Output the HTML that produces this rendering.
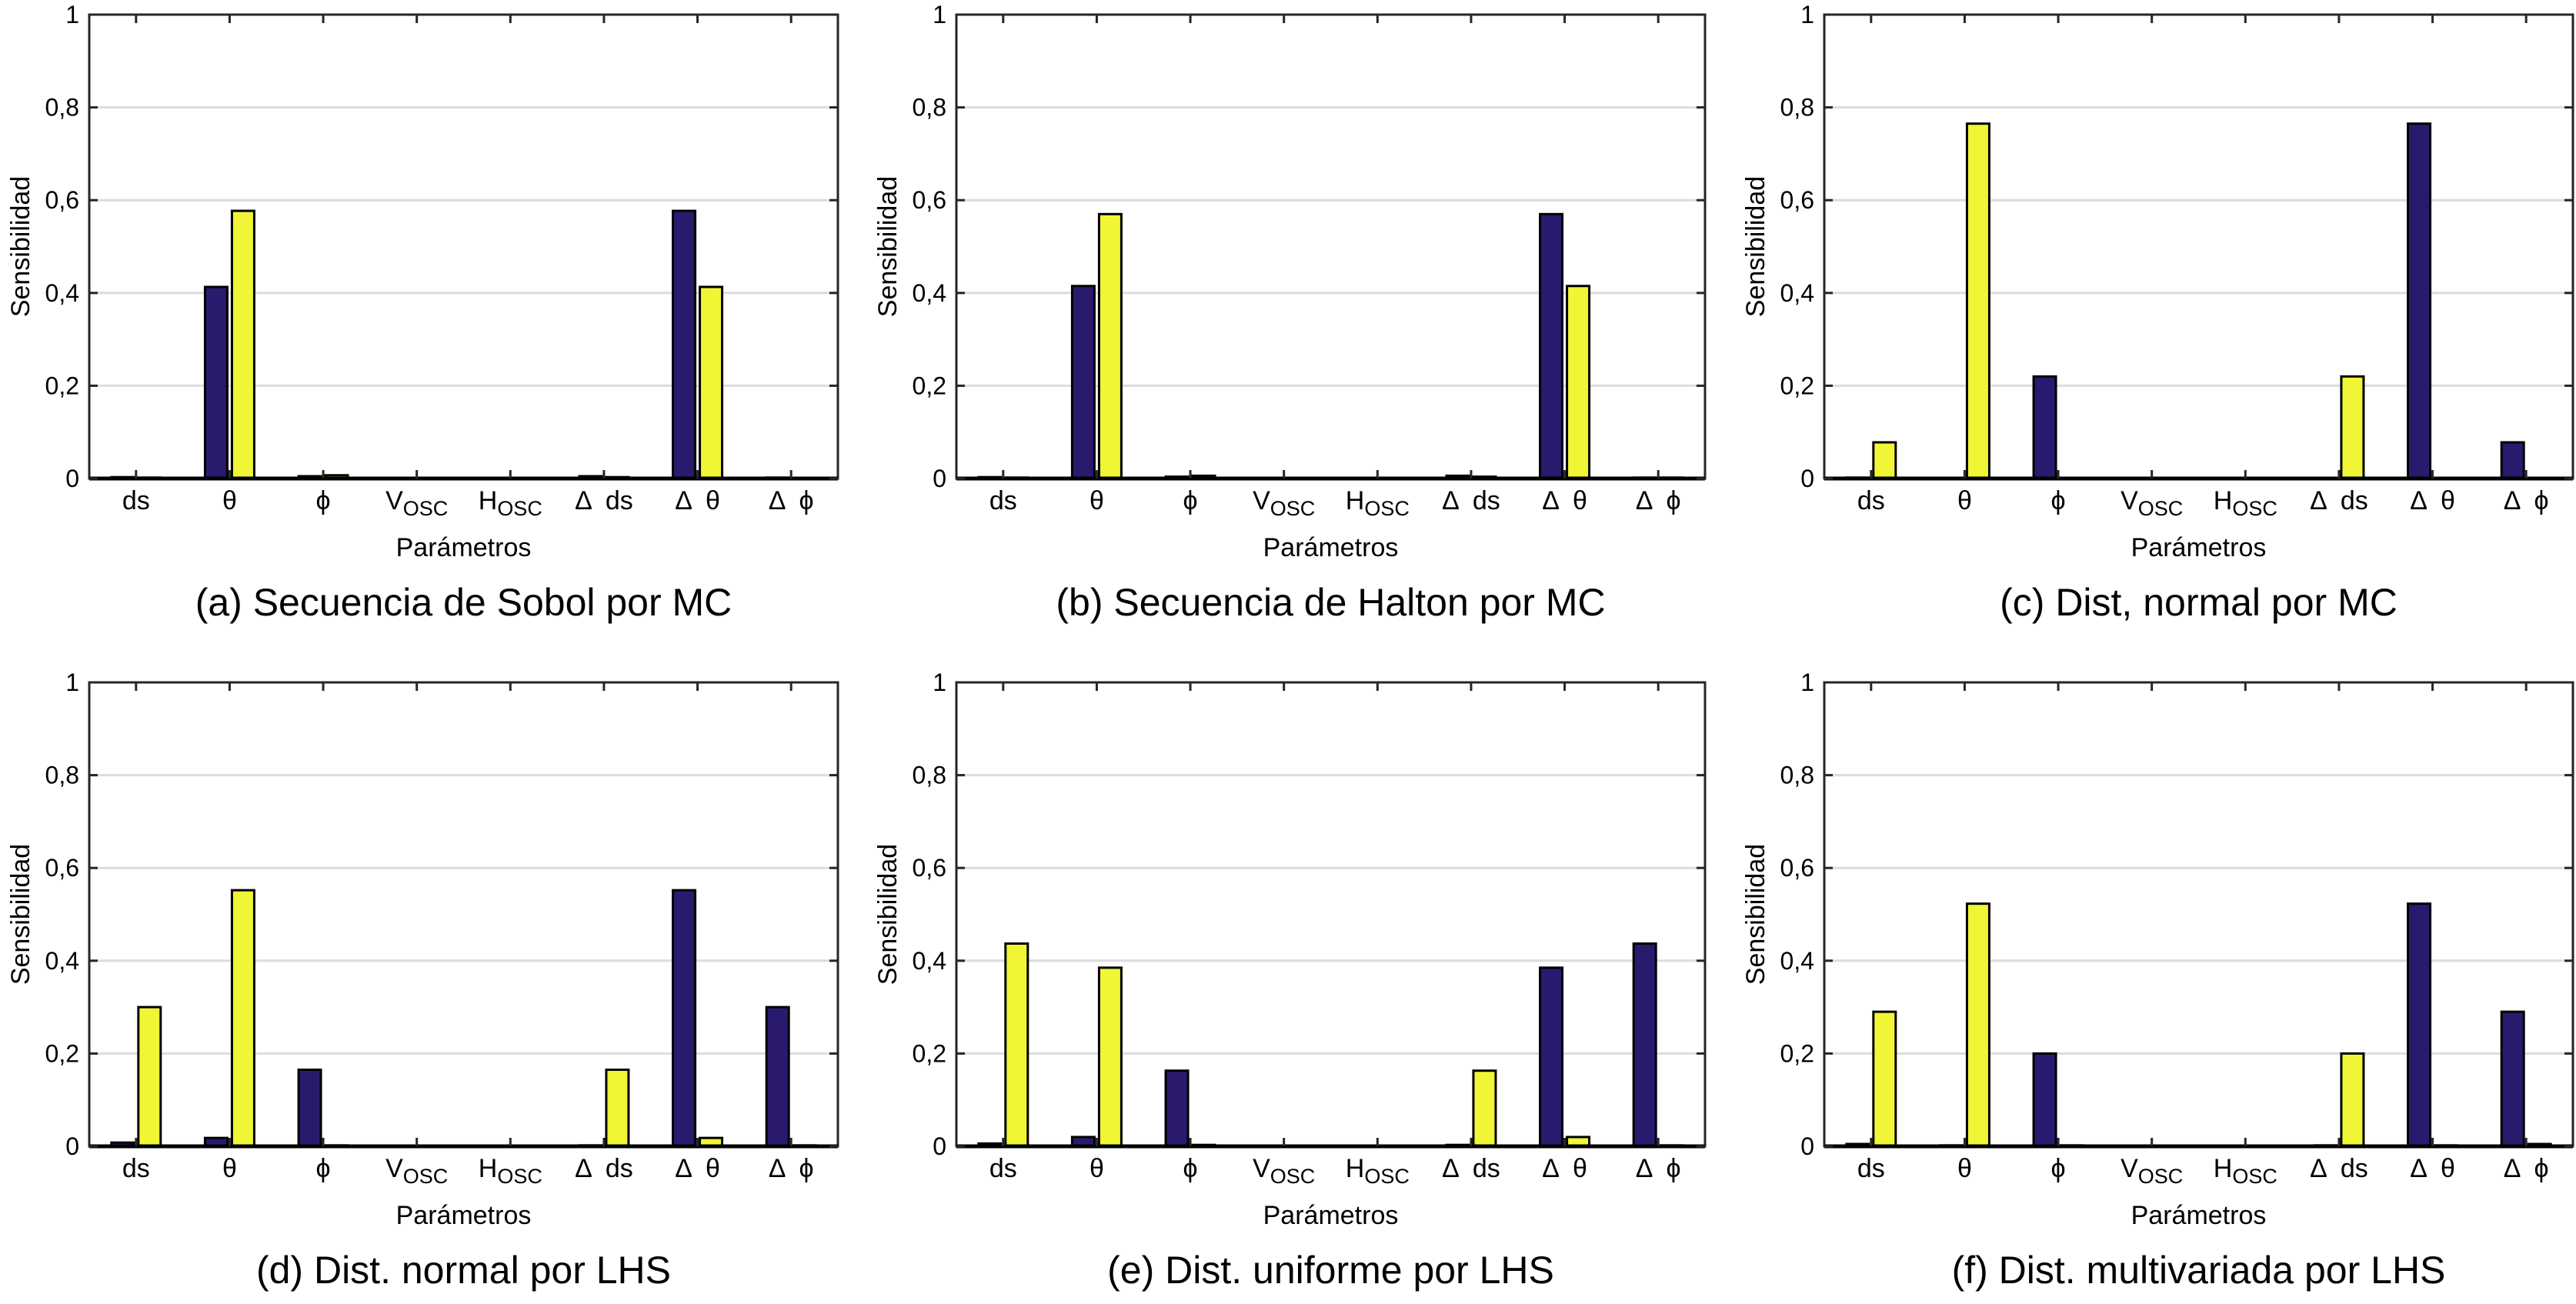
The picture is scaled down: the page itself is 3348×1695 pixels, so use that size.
<!DOCTYPE html>
<html><head><meta charset="utf-8">
<style>
html,body{margin:0;padding:0;background:#fff;}
svg{display:block;font-family:"Liberation Sans",Arial,sans-serif;}
</style></head>
<body>
<svg id="fig" width="3348" height="1695" viewBox="0 0 3348 1695" xmlns="http://www.w3.org/2000/svg"></svg>
<script>
// Categories and tick labels
const categories = ["ds","θ","ϕ","V_OSC","H_OSC","Δ\u2002ds","Δ\u2002θ","Δ\u2002ϕ"];
const yTicks = [0,0.2,0.4,0.6,0.8,1];
const yTickLabels = ["0","0,2","0,4","0,6","0,8","1"];
const captions = ["(a) Secuencia de Sobol por MC","(b) Secuencia de Halton por MC","(c) Dist, normal por MC","(d) Dist. normal por LHS","(e) Dist. uniforme por LHS","(f) Dist. multivariada por LHS"];
// Series values (blue = first series, yellow = second series) per panel
const blueA = [0.003,0.413,0.005,0,0,0.005,0.577,0.002];
const yellowA = [0.002,0.577,0.007,0,0,0.003,0.413,0.001];
const blueB = [0.003,0.415,0.004,0,0,0.006,0.570,0.002];
const yellowB = [0.002,0.570,0.006,0,0,0.004,0.415,0.002];
const blueC = [0.002,0.001,0.220,0,0,0.001,0.765,0.078];
const yellowC = [0.078,0.765,0.001,0,0,0.220,0.001,0.001];
const blueD = [0.008,0.018,0.165,0,0,0.002,0.552,0.300];
const yellowD = [0.300,0.552,0.002,0,0,0.165,0.018,0.002];
const blueE = [0.006,0.020,0.163,0,0,0.003,0.385,0.437];
const yellowE = [0.437,0.385,0.003,0,0,0.163,0.020,0.002];
const blueF = [0.005,0.002,0.200,0,0,0.002,0.523,0.290];
const yellowF = [0.290,0.523,0.002,0,0,0.200,0.002,0.005];

const blues = [blueA,blueB,blueC,blueD,blueE,blueF];
const yellows = [yellowA,yellowB,yellowC,yellowD,yellowE,yellowF];
const panelIds = ["a","b","c","d","e","f"];

const NS = "http://www.w3.org/2000/svg";
const svg = document.getElementById("fig");
function mk(tag, attrs, parent){
  const e = document.createElementNS(NS, tag);
  for (const k in attrs) e.setAttribute(k, attrs[k]);
  (parent||svg).appendChild(e);
  return e;
}
const W = 973, H = 603;
const X0s = [116,1243,2371], Y0s = [19,887];

for (let p=0;p<6;p++){
  const left = X0s[p%3], top = Y0s[Math.floor(p/3)];
  const g = mk("g",{});
  
  
  const xS = v => left + (v-0.5)/8*W;
  const yS = v => top + H - v*H;
  for (let i=1;i<yTicks.length-1;i++){
    const gl = mk("line",{x1:left,x2:left+W,y1:yS(yTicks[i]),y2:yS(yTicks[i]),stroke:"#dcdcdc","stroke-width":3},g);
    
    
  }
  const bw = 29, off = 17.5;
  for (let i=0;i<categories.length;i++){
    const c = xS(i+1);
    const vb = blues[p][i], vy = yellows[p][i];
    const rb = mk("rect",{x:c-off-bw/2,y:yS(vb),width:bw,height:Math.max(0,yS(0)-yS(vb)),fill:"#2a1a6e",stroke:"#000","stroke-width":3},g);
    
    
    const ry = mk("rect",{x:c+off-bw/2,y:yS(vy),width:bw,height:Math.max(0,yS(0)-yS(vy)),fill:"#f0f536",stroke:"#000","stroke-width":3},g);
    
    
  }
  const box = mk("rect",{x:left,y:top,width:W,height:H,fill:"none",stroke:"#262626","stroke-width":3},g);
  
  
  const base = mk("line",{x1:left,x2:left+W,y1:yS(0),y2:yS(0),stroke:"#000","stroke-width":5},g);
  
  
  for (let i=0;i<categories.length;i++){
    const x = xS(i+1);
    mk("line",{x1:x,x2:x,y1:top,y2:top+11,stroke:"#262626","stroke-width":3},g);
    mk("line",{x1:x,x2:x,y1:yS(0),y2:yS(0)-11,stroke:"#262626","stroke-width":3},g);
    const t = mk("text",{x:x,y:yS(0)+40,"text-anchor":"middle","font-size":34,fill:"#000"},g);
    
    
    const lab = categories[i];
    if (lab.indexOf("_")>=0){
      const parts = lab.split("_");
      const a = mk("tspan",{},t); a.textContent = parts[0];
      const b = mk("tspan",{"font-size":27,dy:8},t); b.textContent = parts[1];
    } else t.textContent = lab;
  }
  for (let i=0;i<yTicks.length;i++){
    const y = yS(yTicks[i]);
    mk("line",{x1:left,x2:left+11,y1:y,y2:y,stroke:"#262626","stroke-width":3},g);
    mk("line",{x1:left+W,x2:left+W-11,y1:y,y2:y,stroke:"#262626","stroke-width":3},g);
    const t = mk("text",{x:left-13,y:y+11,"text-anchor":"end","font-size":32,fill:"#000"},g);
    
    
    t.textContent = yTickLabels[i];
  }
  const xt = mk("text",{x:left+W/2,y:yS(0)+101,"text-anchor":"middle","font-size":34,fill:"#000"},g);
  
  
  xt.textContent = "Parámetros";
  const yc = top+H/2, yx = left-78;
  const yt = mk("text",{x:yx,y:yc,"text-anchor":"middle","font-size":34,fill:"#000",transform:"rotate(-90 "+yx+" "+yc+")"},g);
  
  
  yt.textContent = "Sensibilidad";
  const cap = mk("text",{x:left+W/2,y:yS(0)+178,"text-anchor":"middle","font-size":50,fill:"#000"},g);
  
  
  cap.textContent = captions[p];
}
</script>
</body></html>
